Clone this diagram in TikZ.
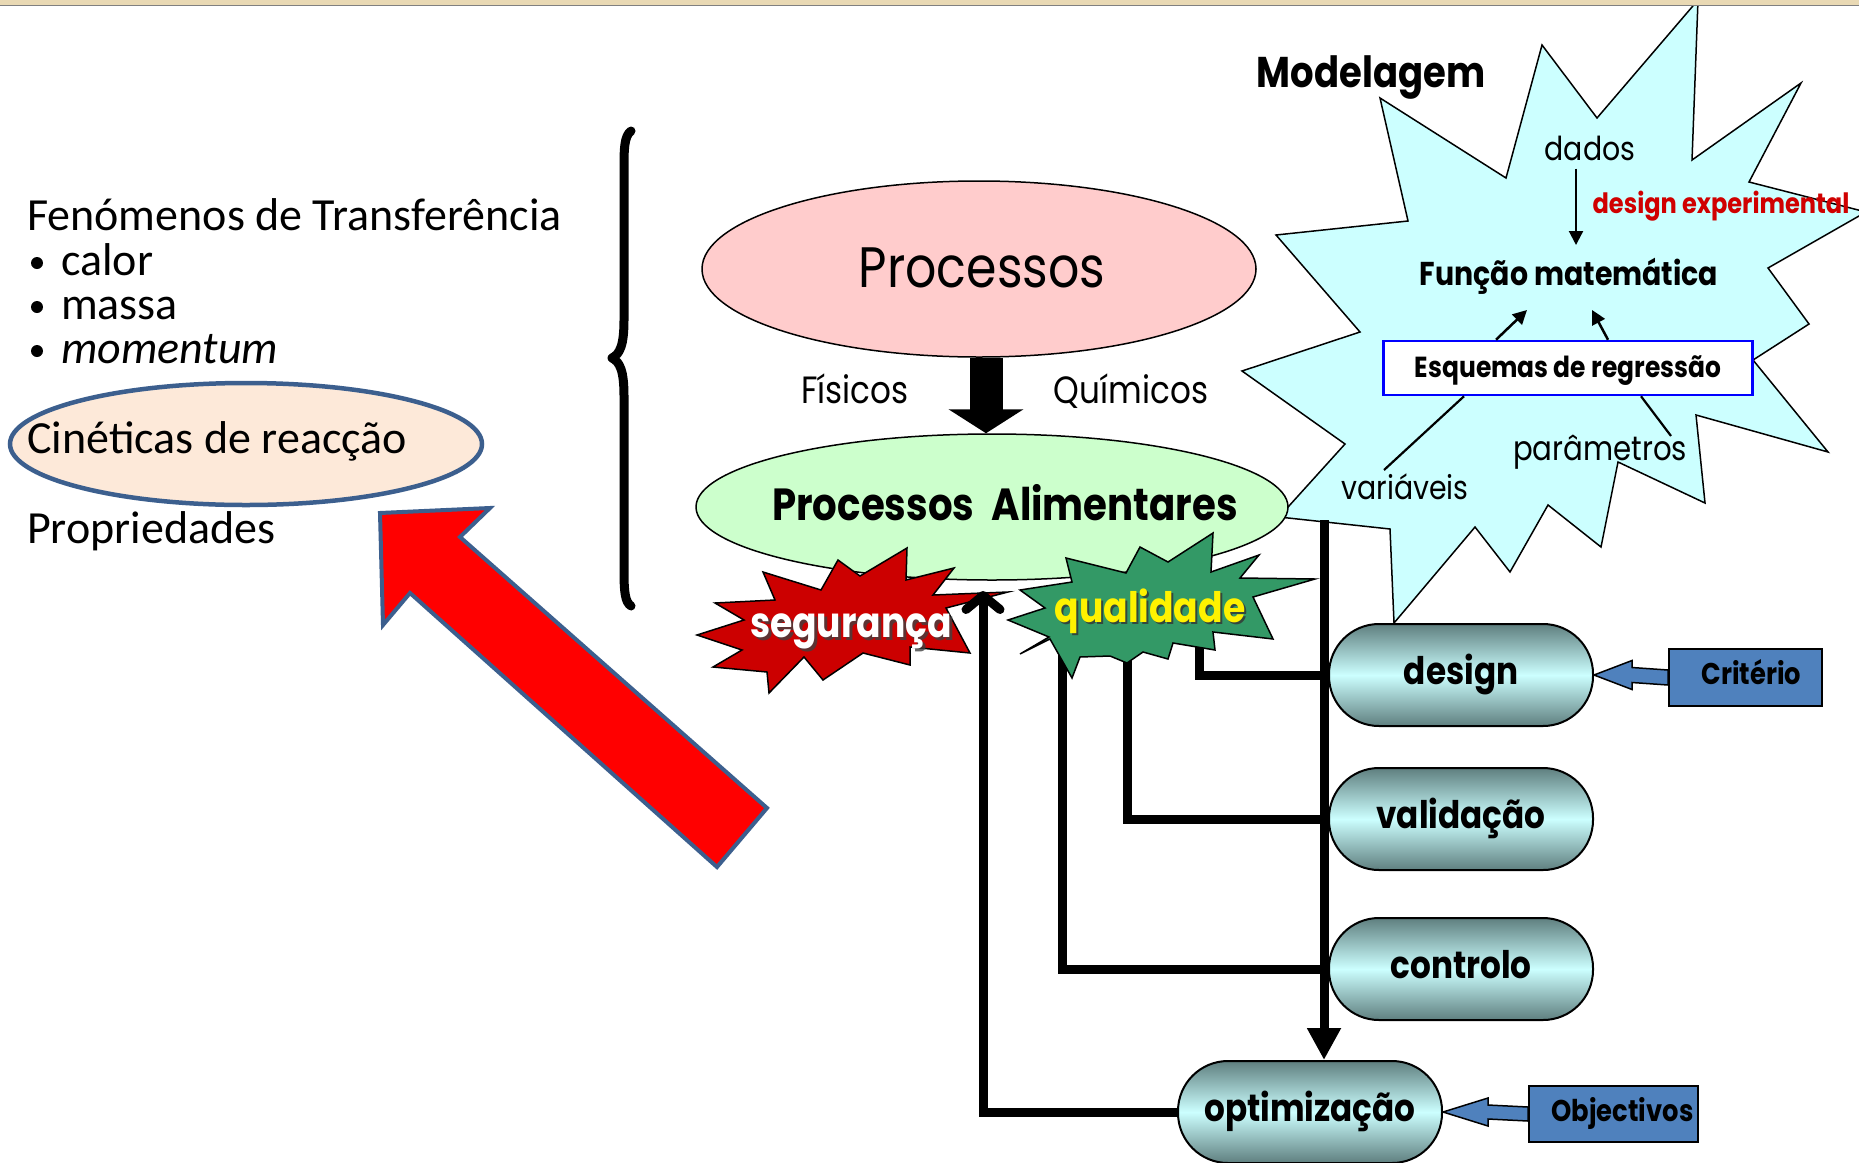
\documentclass[tikz,border=0pt]{standalone}
\usepackage{fontspec}
\newfontfamily\comic[FakeStretch=0.86]{Poppins}
\newfontfamily\calib{Carlito}
\usetikzlibrary{shapes.geometric,arrows.meta,calc}
\newcommand\fsz[1]{\fontsize{#1}{#1}\selectfont}
\definecolor{pinkf}{HTML}{FFCCCC}
\definecolor{greenf}{HTML}{CCFFCC}
\definecolor{starc}{HTML}{CCFFFF}
\definecolor{redstar}{HTML}{CC0000}
\definecolor{greenstar}{HTML}{339966}
\definecolor{pilld}{HTML}{5F7F7F}
\definecolor{pilll}{HTML}{CCFFFF}
\definecolor{boxblue}{HTML}{4F81BD}
\definecolor{kinf}{HTML}{FDE9D9}
\definecolor{kinb}{HTML}{3C5F8E}
\definecolor{expred}{HTML}{D00000}
\definecolor{bandc}{HTML}{E9D9B4}
\begin{document}
\begin{tikzpicture}[x=1pt,y=-1pt,
  lefttext/.style={font=\calib\fsz{46}, inner sep=0pt, anchor=base west},
  bulletdot/.style={circle, fill=black, inner sep=0pt, minimum size=12pt},
  ctext/.style={font=\comic\fsz{#1}, inner sep=0pt, anchor=base},
  btext/.style={font=\comic\bfseries\fsz{#1}, inner sep=0pt, anchor=base},
  conn/.style={line width=9pt, line join=miter},
  fineline/.style={line width=2.2pt},
  pill/.style={rounded corners=50pt, draw=black, line width=2pt,
    top color=pilld, bottom color=pilld, middle color=pilll,
    minimum width=264pt, minimum height=102pt, inner sep=0pt,
    text height=28pt, text depth=10pt, font=\comic\bfseries\fsz{38}},
  bluebox/.style={draw=black, line width=2pt, fill=boxblue, inner sep=0pt,
    text height=21pt, text depth=7pt, font=\comic\bfseries\fsz{30}},
  oval/.style={ellipse, draw=black, line width=1.5pt, inner sep=0pt},
  smalltip/.style={-{Triangle[length=14pt 0 0, width=14pt 0 0]}}
]
\useasboundingbox (0,0) rectangle (1859,1162);
\fill[white] (0,0) rectangle (1859,1162);

% ---------- left column ----------
\node[ellipse, draw=kinb, fill=kinf, line width=4.5pt, minimum width=472pt, minimum height=122pt, inner sep=0pt] (kin) at (246,444) {};
\node[lefttext] (fen) at (27,230) {Fenómenos de Transferência};
\node[bulletdot] (bul1) at (37,263) {};
\node[lefttext] (calor) at (61,275) {calor};
\node[bulletdot] (bul2) at (37,307) {};
\node[lefttext] (massa) at (61,319) {massa};
\node[bulletdot] (bul3) at (37,351) {};
\node[lefttext, font=\calib\itshape\fsz{46}] (mom) at (61,363) {momentum};
\node[lefttext] (kintxt) at (27,453) {Cinéticas de reacção};
\node[lefttext] (prop) at (27,543) {Propriedades};

% red block arrow
\filldraw[fill=red, draw=kinb, line width=4pt, line join=miter]
  (380,513) -- (490,508) -- (460,537) -- (767,808) -- (717,867) -- (410,593) -- (383,625) -- cycle;

% brace
\draw[line width=9pt, line cap=round, line join=round]
  (631,131) .. controls (624,136) and (624,150) .. (624,170) -- (624,320)
  .. controls (624,345) and (620,354) .. (612,358)
  .. controls (620,362) and (624,371) .. (624,396) -- (624,570)
  .. controls (624,592) and (625,602) .. (631,606);

% ---------- cyan starburst ----------
\filldraw[fill=starc, draw=black, line width=1.5pt, line join=miter]
  (1380,98) -- (1408,221) -- (1276,235) -- (1360,332) -- (1242,371) -- (1345,444) --
  (1279,517) -- (1390,529) -- (1394,623) -- (1475,527) -- (1510,572) -- (1548,505) --
  (1601,547) -- (1618,462) -- (1705,503) -- (1696,415) -- (1828,452) -- (1753,360) --
  (1809,324) -- (1768,268) -- (1866,212) -- (1749,182) -- (1801,83) -- (1692,160) --
  (1698,0) -- (1597,118) -- (1542,45) -- (1506,178) -- cycle;

% ---------- processes ----------
\node[oval, fill=pinkf, minimum width=554pt, minimum height=176pt] (proc) at (979,269) {};
\node[ctext=57] (proctxt) at (982,287) {Processos};
\node[ctext=38] (fis) at (855,403) {Físicos};
\node[ctext=38] (qui) at (1131,403) {Químicos};
\node[oval, fill=greenf, minimum width=592pt, minimum height=146pt] (alim) at (992,507) {};
\node[btext=45] (alimtxt) at (1005,520) {Processos\hspace{0.2em} Alimentares};
\coordinate (ax) at (986,0);
\draw[line width=33pt, -{Triangle[length=24pt 0 0, width=74pt 0 0]}] (proc.south -| ax) -- (alim.north -| ax);

% ---------- bus and branches ----------
\node[pill] (design) at (1461,675) {design};
\node[pill] (valid) at (1461,819) {validação};
\node[pill] (contr) at (1461,969) {controlo};
\node[pill] (optim) at (1310,1112) {optimização};
\coordinate (bustop) at (1324,520);
\coordinate (q1) at (1199,640);
\coordinate (q2) at (1127,650);
\coordinate (q3) at (1062,650);
\coordinate (segin) at (983,591);
\draw[conn] (design.west -| bustop) -| (q1);
\draw[conn] (valid.west -| bustop) -| (q2);
\draw[conn] (contr.west -| bustop) -| (q3);
\draw[conn, -{Triangle[length=32pt 0 0, width=32pt 0 0]}] (bustop) -- (optim.north -| bustop);

% ---------- starbursts ----------
\filldraw[fill=redstar, draw=black, line width=1.5pt, line join=miter]
  (697,635) -- (744,620) -- (715,603) -- (775,600) -- (763,572) -- (821,590) --
  (838,560) -- (860,576) -- (907,548) -- (906,580) -- (954,568) -- (933,595) --
  (1008,592) -- (946,608) -- (970,653) -- (910,647) -- (910,665) -- (863,653) --
  (823,680) -- (804,657) -- (769,693) -- (767,672) -- (713,667) -- (742,650) -- cycle;
\filldraw[fill=greenstar, draw=black, line width=1.5pt, line join=miter]
  (1020,590) -- (1072,582) -- (1066,558) -- (1126,573) -- (1140,547) -- (1168,562) --
  (1213,533) -- (1211,572) -- (1259,555) -- (1240,578) -- (1315,579) -- (1253,597) --
  (1273,639) -- (1213,632) -- (1215,650) -- (1173,643) -- (1168,659) -- (1143,652) --
  (1127,663) -- (1110,656) -- (1080,657) -- (1072,678) -- (1050,639) -- (1020,654) --
  (1049,637) -- (1008,620) -- (1045,608) -- cycle;
\node[btext=42, text=black!75, opacity=0.8] (segsh) at (854,640) {segurança};
\node[btext=42, text=white] (seg) at (851,637) {segurança};
\node[btext=42, text=black!80, opacity=0.8] (qualsh) at (1152,624) {qualidade};
\node[btext=42, text=yellow] (qual) at (1150,622) {qualidade};

\draw[conn, -{Straight Barb[round, length=14pt 0 0, width=34pt 0 0]}] (optim.west) -| (segin);

% ---------- modelagem star content ----------
\node[btext=43] (model) at (1371,87) {Modelagem};
\node[ctext=33] (dados) at (1590,160) {dados};
\node[btext=28, text=expred] (dexp) at (1721,213) {design experimental};
\node[btext=33] (funcao) at (1569,285) {Função matemática};
\node[draw=blue, line width=2.5pt, fill=white, minimum width=369pt, minimum height=54pt,
      inner sep=0pt, text height=22pt, text depth=4pt, font=\comic\bfseries\fsz{29}] (esq) at (1568,368) {Esquemas de regressão};
\node[ctext=34] (param) at (1600,460) {parâmetros};
\node[ctext=33] (vari) at (1405,499) {variáveis};
\coordinate (dax) at (1576,0);
\coordinate (fa1) at (1527,310);
\coordinate (fa2) at (1592,310);
\coordinate (vt) at (1384,470);
\coordinate (pt) at (1671,436);
\draw[fineline, smalltip, shorten <=8pt] (dados.south -| dax) -- (1576,245);
\draw[fineline, line width=2.5pt, smalltip] ($(esq.north)+(-72,0)$) -- (fa1);
\draw[fineline, line width=2.5pt, smalltip] ($(esq.north)+(40,0)$) -- (fa2);
\draw[fineline] (vt) -- ($(esq.south)+(-104,0)$);
\draw[fineline] (pt) -- ($(esq.south)+(73,0)$);

% ---------- criteria boxes ----------
\node[bluebox, minimum width=153pt, minimum height=57pt] (crit) at (1745.5,677.5) {\hspace{12pt}Critério};
\node[bluebox, minimum width=169pt, minimum height=56pt] (obj) at (1613.5,1114) {\hspace{18pt}Objectivos};
\filldraw[fill=boxblue, draw=black, line width=1.5pt, line join=miter]
  ($(crit.west)+(0,-7.5)$) -- ($(design.east)+(38,-7.5)$) -- ($(design.east)+(38,-14.5)$) --
  (design.east) -- ($(design.east)+(38,14.5)$) -- ($(design.east)+(38,7.5)$) -- ($(crit.west)+(0,7.5)$) -- cycle;
\filldraw[fill=boxblue, draw=black, line width=1.5pt, line join=miter]
  ($(obj.west)+(0,-7)$) -- ($(optim.east)+(45,-7)$) -- ($(optim.east)+(45,-14)$) --
  (optim.east) -- ($(optim.east)+(45,14)$) -- ($(optim.east)+(45,7)$) -- ($(obj.west)+(0,7)$) -- cycle;

% top band
\fill[bandc] (0,0) rectangle (1859,5);
\draw[line width=1.5pt, color=gray] (0,5.5) -- (1859,5.5);
\end{tikzpicture}
\end{document}
